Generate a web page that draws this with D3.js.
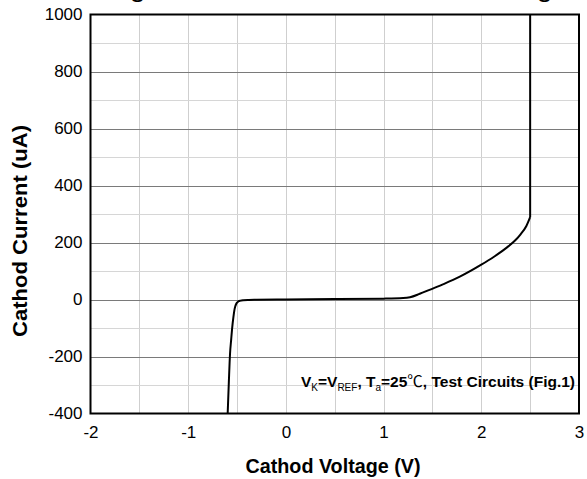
<!DOCTYPE html>
<html>
<head>
<meta charset="utf-8">
<script src="https://cdn.jsdelivr.net/npm/d3@7/dist/d3.min.js"></script>
<style>
html,body{margin:0;padding:0;background:#fff;}
svg{display:block;font-family:"Liberation Sans",Arial,sans-serif;}
</style>
</head>
<body>
<svg id="chart" width="587" height="479"></svg>
<script>
// ---- data ----
const titleText = "Fig.3 Cathod Current vs. Cathod Voltage";
const xTicks = [-2, -1, 0, 1, 2, 3];
const yTicks = [-400, -200, 0, 200, 400, 600, 800, 1000];
const xMinorGrid = [-1.5, -1, -0.5, 0, 0.5, 1, 1.5, 2, 2.5];
const yMinorGrid = [-300, -100, 100, 300, 500, 700, 900];
const yMajorGrid = [-200, 0, 200, 400, 600, 800];
const voltage = [-0.596, -0.584, -0.572, -0.56, -0.549, -0.538, -0.528, -0.518, -0.508, -0.497, -0.482, -0.465, -0.436, -0.38, -0.3, 0, 0.5, 1.0, 1.2, 1.27, 1.37, 1.47, 1.62, 1.78, 2.0, 2.13, 2.26, 2.34, 2.40, 2.46, 2.50, 2.50];
const current = [-400, -290, -191, -140, -97, -64, -39, -24, -15, -10, -6, -4, -2.5, -1.5, -1, 0, 1.5, 3, 5, 8, 20, 34, 55, 80, 122, 150, 182, 205, 228, 257, 289, 1000];

const svg = d3.select("#chart");
const L = 90.5, R = 579, T = 14.5, B = 413.5;
const x = d3.scaleLinear().domain([-2, 3]).range([L, R]);
const y = d3.scaleLinear().domain([-400, 1000]).range([B, T]);

// cut-off title at top
svg.append("text")
  .attr("x", 109).attr("y", -2.5)
  .attr("textLength", 456).attr("lengthAdjust", "spacingAndGlyphs")
  .attr("font-size", 18).attr("font-weight", "bold").attr("fill", "#000")
  .text(titleText);

// grid
const g = svg.append("g");
g.selectAll(".vg").data(xMinorGrid).enter().append("line")
  .attr("x1", d => Math.round(x(d)) + 0.5).attr("x2", d => Math.round(x(d)) + 0.5)
  .attr("y1", T).attr("y2", B).attr("stroke", "#cfcfcf").attr("stroke-width", 1);
g.selectAll(".hm").data(yMinorGrid).enter().append("line")
  .attr("x1", L).attr("x2", R)
  .attr("y1", d => Math.round(y(d)) + 0.5).attr("y2", d => Math.round(y(d)) + 0.5)
  .attr("stroke", "#d6d6d6").attr("stroke-width", 1);
g.selectAll(".hM").data(yMajorGrid).enter().append("line")
  .attr("x1", L).attr("x2", R)
  .attr("y1", d => Math.round(y(d)) + 0.5).attr("y2", d => Math.round(y(d)) + 0.5)
  .attr("stroke", "#7a7a7a").attr("stroke-width", 1);

// curve
svg.append("clipPath").attr("id", "clip").append("rect")
  .attr("x", L).attr("y", T).attr("width", R - L).attr("height", B - T);
const pts = voltage.map((v, i) => [v, current[i]]);
const n = pts.length;
const smooth = d3.line().x(d => x(d[0])).y(d => y(d[1])).curve(d3.curveMonotoneX);
const straight = d3.line().x(d => x(d[0])).y(d => y(d[1]));
const cg = svg.append("g").attr("clip-path", "url(#clip)");
cg.append("path").datum(pts.slice(0, n - 1))
  .attr("d", smooth).attr("fill", "none").attr("stroke", "#000")
  .attr("stroke-width", 2).attr("stroke-linejoin", "round");
cg.append("path").datum(pts.slice(n - 2))
  .attr("d", straight).attr("fill", "none").attr("stroke", "#000")
  .attr("stroke-width", 2);

// frame
svg.append("rect").attr("x", L).attr("y", T).attr("width", R - L).attr("height", B - T)
  .attr("fill", "none").attr("stroke", "#000").attr("stroke-width", 2);

// axes labels via d3 axes (no tick lines)
const fmt = d => String(d);
const xAxis = d3.axisBottom(x).tickValues(xTicks).tickSize(0).tickPadding(12).tickFormat(fmt);
const xa = svg.append("g").attr("transform", `translate(0,${B})`).call(xAxis);
xa.select(".domain").remove();
xa.selectAll("text").attr("font-size", 17).attr("font-family", "Liberation Sans, Arial, sans-serif").attr("fill", "#000");

const yAxis = d3.axisLeft(y).tickValues(yTicks).tickSize(0).tickPadding(8).tickFormat(fmt);
const ya = svg.append("g").attr("transform", `translate(${L},0)`).call(yAxis);
ya.select(".domain").remove();
ya.selectAll("text").attr("font-size", 17).attr("font-family", "Liberation Sans, Arial, sans-serif").attr("fill", "#000");

// axis titles
svg.append("text").attr("x", 333).attr("y", 473).attr("text-anchor", "middle")
  .attr("font-size", 20).attr("font-weight", "bold")
  .attr("textLength", 175).attr("lengthAdjust", "spacingAndGlyphs").text("Cathod Voltage (V)");
svg.append("text").attr("transform", "translate(27,231) rotate(-90)").attr("text-anchor", "middle")
  .attr("font-size", 20).attr("font-weight", "bold")
  .attr("textLength", 212).attr("lengthAdjust", "spacingAndGlyphs").text("Cathod Current (uA)");

// annotation
const ann = svg.append("text").attr("x", 575).attr("y", 387).attr("text-anchor", "end")
  .attr("font-size", 15.5).attr("font-weight", "bold").attr("fill", "#000");
ann.append("tspan").text("V");
ann.append("tspan").attr("font-size", 10).attr("font-weight", "normal").attr("dy", 4).text("K");
ann.append("tspan").attr("dy", -4).text("=V");
ann.append("tspan").attr("font-size", 10).attr("font-weight", "normal").attr("dy", 4).text("REF");
ann.append("tspan").attr("dy", -4).text(", T");
ann.append("tspan").attr("font-size", 10).attr("font-weight", "normal").attr("dy", 4).text("a");
ann.append("tspan").attr("dy", -4).text("=25");
ann.append("tspan").attr("font-weight", "normal").attr("font-family", "Noto Sans CJK SC").text("℃");
ann.append("tspan").text(", Test Circuits (Fig.1)");
</script>
</body>
</html>
